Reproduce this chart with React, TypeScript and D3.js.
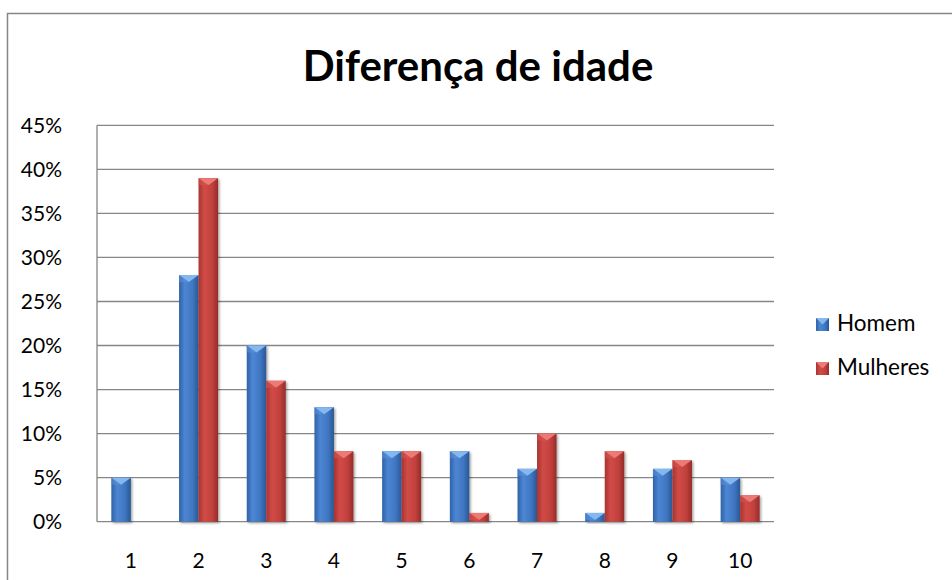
import React from "react";
import * as d3 from "d3";

const categories = ["1", "2", "3", "4", "5", "6", "7", "8", "9", "10"];
const homem = [5, 28, 20, 13, 8, 8, 6, 1, 6, 5];
const mulheres = [0, 39, 16, 8, 8, 1, 10, 8, 7, 3];
const yTicks = [0, 5, 10, 15, 20, 25, 30, 35, 40, 45];
const seriesNames = ["Homem", "Mulheres"];
const title = "Diferença de idade";

const W = 952;
const H = 580;
const plot = { left: 97, right: 774, top: 125.3, bottom: 521.7 };
const font = "Lato, 'Open Sans', sans-serif";

const palettes = [
  { id: "blue", stops: ["#2f62a8", "#4d86d3", "#3f76c2", "#2a5792"], bevel: "#86b8f0", bevelEdge: "#5f94d8" },
  { id: "red", stops: ["#a8332f", "#d14b47", "#c1413d", "#952c29"], bevel: "#ec7a76", bevelEdge: "#d85753" },
];

export default function App() {
  const x = d3
    .scaleBand<string>()
    .domain(categories)
    .range([plot.left, plot.right])
    .paddingInner(0.424)
    .paddingOuter(0.212);
  const xs = d3.scaleBand<string>().domain(seriesNames).range([0, x.bandwidth()]);
  const y = d3.scaleLinear().domain([0, 45]).range([plot.bottom, plot.top]);
  const data = [homem, mulheres];

  return (
    <svg
      width={W}
      height={H}
      style={{ position: "absolute", left: 0, top: 0, background: "#fff" }}
    >
      <defs>
        {palettes.map((p) => (
          <linearGradient key={p.id} id={`g-${p.id}`} x1="0" x2="1" y1="0" y2="0">
            <stop offset="0" stopColor={p.stops[0]} />
            <stop offset="0.3" stopColor={p.stops[1]} />
            <stop offset="0.7" stopColor={p.stops[2]} />
            <stop offset="1" stopColor={p.stops[3]} />
          </linearGradient>
        ))}
        <filter id="shadow" x="-20%" y="-10%" width="150%" height="130%">
          <feDropShadow dx="1.5" dy="1.5" stdDeviation="1.2" floodColor="#000" floodOpacity="0.35" />
        </filter>
      </defs>
      <rect x={7.5} y={13.5} width={W} height={H} fill="#fff" stroke="#868686" strokeWidth={1.5} />

      <text
        x={478}
        y={81}
        textAnchor="middle"
        fontFamily={font}
        fontWeight={700}
        fontSize={42}
        fill="#000"
      >
        {title}
      </text>

      {yTicks.map((t) => (
        <g key={t}>
          <line
            x1={plot.left}
            x2={plot.right}
            y1={y(t)}
            y2={y(t)}
            stroke="#868686"
            strokeWidth={1.3}
          />
          <text
            x={62}
            y={y(t)}
            dy="0.35em"
            textAnchor="end"
            fontFamily={font}
            fontSize={21}
            fill="#000"
          >
            {t}%
          </text>
        </g>
      ))}
      <line x1={plot.left} x2={plot.left} y1={plot.top} y2={plot.bottom} stroke="#868686" strokeWidth={1.3} />

      {categories.map((c, i) => (
        <g key={c}>
          {data.map((series, s) => {
            const v = series[i];
            if (v <= 0) return null;
            const x0 = (x(c) ?? 0) + (xs(seriesNames[s]) ?? 0);
            const w = xs.bandwidth();
            const top = y(v);
            const h = plot.bottom - top;
            const p = palettes[s];
            const bevelH = Math.min(7, h);
            return (
              <g key={s} filter="url(#shadow)">
                <rect x={x0} y={top} width={w} height={h} fill={`url(#g-${p.id})`} />
                <path
                  d={`M${x0},${top}L${x0 + w},${top}L${x0 + w / 2},${top + bevelH}Z`}
                  fill={p.bevel}
                />
                <path
                  d={`M${x0},${top}L${x0 + w / 2},${top + bevelH}L${x0},${top + bevelH}Z`}
                  fill={p.bevelEdge}
                  opacity={0.5}
                />
              </g>
            );
          })}
          <text
            x={(x(c) ?? 0) + x.bandwidth() / 2}
            y={561}
            dy="0.35em"
            textAnchor="middle"
            fontFamily={font}
            fontSize={21}
            fill="#000"
          >
            {c}
          </text>
        </g>
      ))}

      {seriesNames.map((n, s) => {
        const ly = 323 + s * 44;
        const p = palettes[s];
        return (
          <g key={n}>
            <rect x={816} y={ly - 5} width={13} height={13} fill={`url(#g-${p.id})`} />
            <path d={`M816,${ly - 5}L829,${ly - 5}L822.5,${ly + 1.5}Z`} fill={p.bevel} />
            <text x={837} y={ly} dy="0.35em" fontFamily={font} fontSize={22.5} fill="#000">
              {n}
            </text>
          </g>
        );
      })}
    </svg>
  );
}
